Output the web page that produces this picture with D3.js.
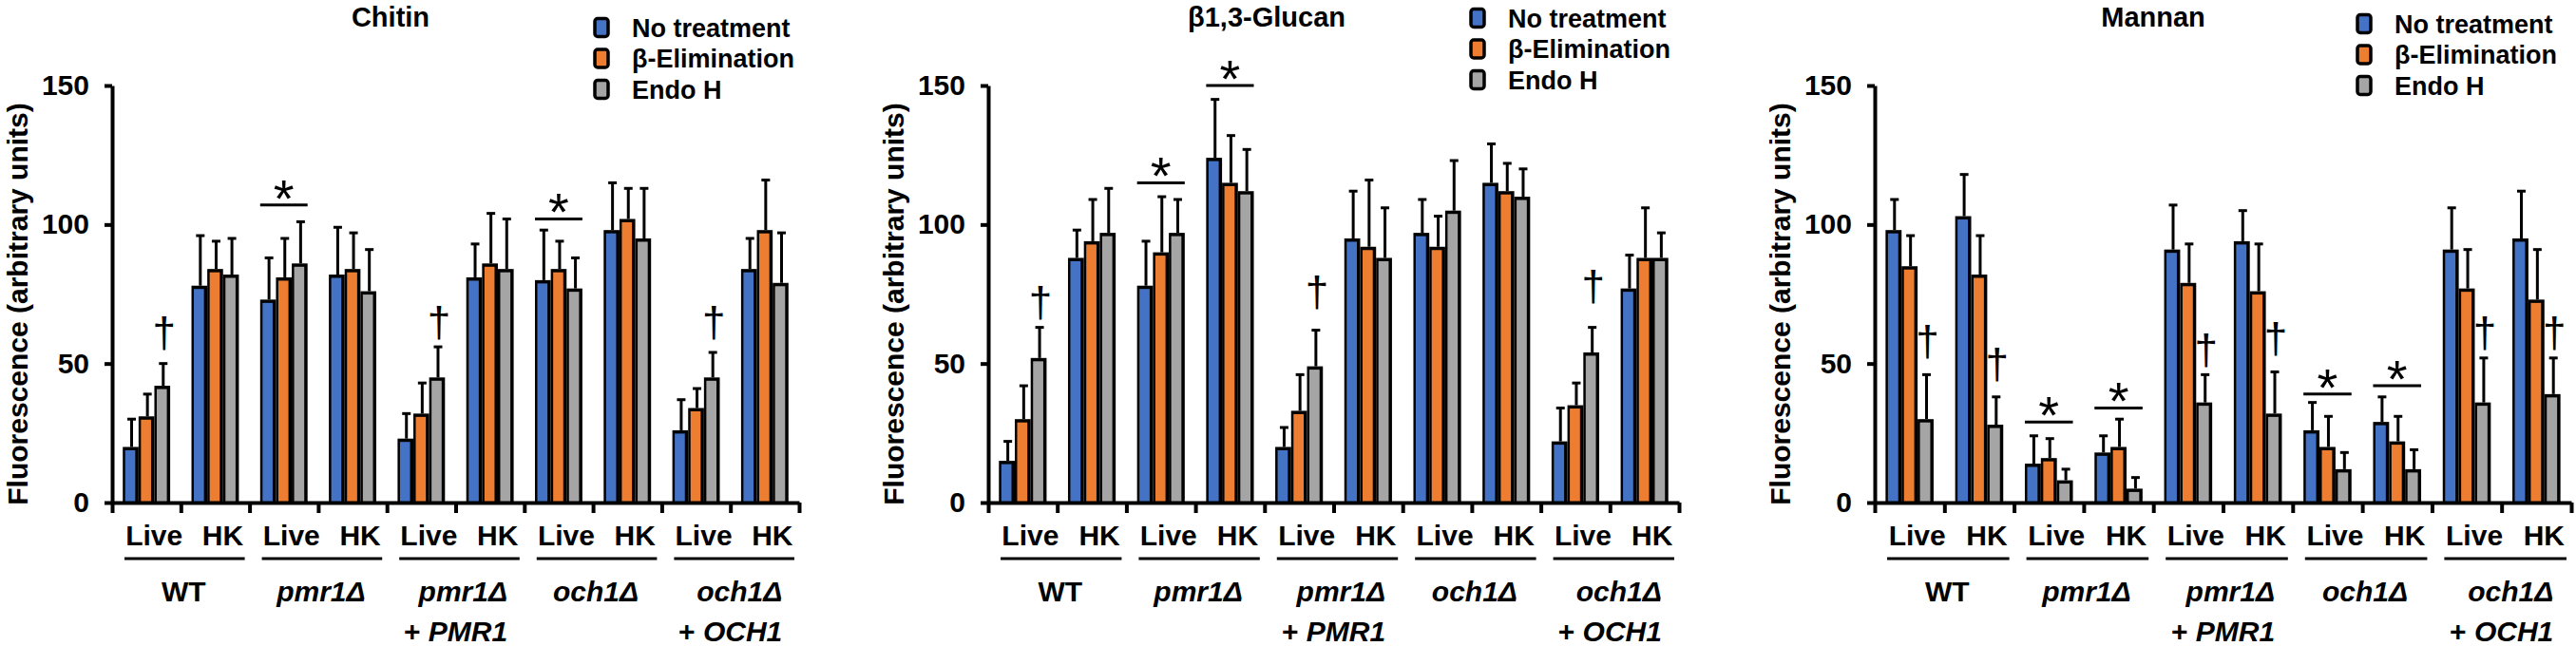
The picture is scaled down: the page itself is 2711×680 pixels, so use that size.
<!DOCTYPE html>
<html>
<head>
<meta charset="utf-8">
<script src="https://cdn.jsdelivr.net/npm/d3@7"></script>
<style>
  body { margin: 0; background: #fff; }
  svg { display: block; font-family: "Liberation Sans", Arial, sans-serif; font-weight: bold; }
</style>
</head>
<body>
<svg id="chart" width="2711" height="680"></svg>
<script>
// --- data ---
var series = ['No treatment', '\u03b2-Elimination', 'Endo H'];
var states = ['Live', 'HK'];
var strainNames = ['WT', 'pmr1\u0394', 'pmr1\u0394', 'och1\u0394', 'och1\u0394'];
var strainItalic = [false, true, true, true, true];
var complements = ['', '', 'PMR1', '', 'OCH1'];
var yTicks = [0, 50, 100, 150];

// one row per strain/state (WT Live, WT HK, pmr1 Live, ...), one column per series
var chitinMeans = [
  [20, 31, 42], [78, 84, 82], [73, 81, 86], [82, 84, 76], [23, 32, 45],
  [81, 86, 84], [80, 84, 77], [98, 102, 95], [26, 34, 45], [84, 98, 79]
];
var chitinErrors = [
  [10, 8, 8], [18, 10, 13], [15, 14, 15], [17, 13, 15], [9, 11, 11],
  [12, 18, 18], [18, 10, 11], [17, 11, 18], [11, 7, 9], [11, 18, 18]
];
var chitinStars = [{ cat: 2, value: 107 }, { cat: 6, value: 102 }];
var chitinDaggers = [{ cat: 0, value: 60 }, { cat: 4, value: 64 }, { cat: 8, value: 64 }];

var glucanMeans = [
  [15, 30, 52], [88, 94, 97], [78, 90, 97], [124, 115, 112], [20, 33, 49],
  [95, 92, 88], [97, 92, 105], [115, 112, 110], [22, 35, 54], [77, 88, 88]
];
var glucanErrors = [
  [7, 12, 11], [10, 15, 16], [16, 20, 12], [21, 17, 15], [7, 13, 13],
  [17, 24, 18], [12, 11, 18], [14, 10, 10], [12, 8, 9], [12, 18, 9]
];
var glucanStars = [{ cat: 2, value: 115 }, { cat: 3, value: 150 }];
var glucanDaggers = [{ cat: 0, value: 71 }, { cat: 4, value: 75 }, { cat: 8, value: 77 }];

var mannanMeans = [
  [98, 85, 30], [103, 82, 28], [14, 16, 8], [18, 20, 5], [91, 79, 36],
  [94, 76, 32], [26, 20, 12], [29, 22, 12], [91, 77, 36], [95, 73, 39]
];
var mannanErrors = [
  [11, 11, 16], [15, 14, 10], [10, 7, 4], [6, 10, 4], [16, 14, 10],
  [11, 17, 15], [10, 11, 6], [9, 9, 7], [15, 14, 16], [17, 18, 13]
];
var mannanStars = [{ cat: 2, value: 29 }, { cat: 3, value: 34 }, { cat: 6, value: 39 }, { cat: 7, value: 42 }];
var mannanDaggers = [{ cat: 0, value: 57 }, { cat: 1, value: 49 }, { cat: 4, value: 54 },
  { cat: 5, value: 58 }, { cat: 8, value: 60 }, { cat: 9, value: 60 }];

// --- layout ---
var panels = [
  { title: 'Chitin', means: chitinMeans, errors: chitinErrors, stars: chitinStars, daggers: chitinDaggers,
    x0: 118, x1: 841, legendY: 29 },
  { title: '\u03b21,3-Glucan', means: glucanMeans, errors: glucanErrors, stars: glucanStars, daggers: glucanDaggers,
    x0: 1040, x1: 1767, legendY: 19 },
  { title: 'Mannan', means: mannanMeans, errors: mannanErrors, stars: mannanStars, daggers: mannanDaggers,
    x0: 1973, x1: 2706, legendY: 25 }
];
var colors = ['#4472C4', '#ED7D31', '#A5A5A5'];
var yTop = 90, yBottom = 529;

var svg = d3.select('#chart');

panels.forEach(function (p) {
  var width = p.x1 - p.x0;
  var g = svg.append('g').attr('transform', 'translate(' + p.x0 + ',0)');

  var cats = d3.range(strainNames.length * states.length);
  var x = d3.scaleBand().domain(cats).range([0, width]);
  var bw = x.bandwidth();
  var groupW = bw * 0.69;
  var groupOff = (bw - groupW) / 2;
  var xs = d3.scaleBand().domain(d3.range(series.length)).range([0, groupW]);
  var sw = xs.bandwidth();
  var y = d3.scaleLinear().domain([0, 150]).range([yBottom, yTop]);
  var xb = d3.scaleLinear().domain([0, cats.length]).range([0, width]);

  // bars
  var bars = [];
  p.means.forEach(function (row, c) {
    row.forEach(function (v, s) {
      bars.push({ c: c, s: s, v: v, e: p.errors[c][s] });
    });
  });
  function bx(d) { return x(d.c) + groupOff + xs(d.s); }

  g.selectAll('rect.outline').data(bars).enter().append('rect')
    .attr('class', 'outline')
    .attr('x', bx)
    .attr('y', function (d) { return y(d.v); })
    .attr('width', sw)
    .attr('height', function (d) { return yBottom - y(d.v); })
    .attr('fill', '#000');

  g.selectAll('rect.fill').data(bars).enter().append('rect')
    .attr('class', 'fill')
    .attr('x', function (d) { return bx(d) + 2.5; })
    .attr('y', function (d) { return y(d.v) + 3.5; })
    .attr('width', sw - 6)
    .attr('height', function (d) { return Math.max(0, yBottom - y(d.v) - 3.5); })
    .attr('fill', function (d) { return colors[d.s]; });

  // error bars
  var err = g.selectAll('g.err').data(bars).enter().append('g')
    .attr('class', 'err')
    .attr('stroke', '#000').attr('stroke-width', 3);
  err.append('line')
    .attr('x1', function (d) { return bx(d) + sw / 2 + 1; })
    .attr('x2', function (d) { return bx(d) + sw / 2 + 1; })
    .attr('y1', function (d) { return y(d.v); })
    .attr('y2', function (d) { return y(d.v + d.e); });
  err.append('line')
    .attr('x1', function (d) { return bx(d) + sw / 2 - 3.5; })
    .attr('x2', function (d) { return bx(d) + sw / 2 + 5.5; })
    .attr('y1', function (d) { return y(d.v + d.e); })
    .attr('y2', function (d) { return y(d.v + d.e); });

  // axes
  var xAxis = g.append('g')
    .attr('transform', 'translate(0,' + yBottom + ')')
    .call(d3.axisBottom(xb).tickValues(d3.range(cats.length + 1)).tickSize(11).tickSizeOuter(0).tickFormat(''));
  var yAxis = g.append('g')
    .call(d3.axisLeft(y).tickValues(yTicks).tickSize(8).tickSizeOuter(0).tickPadding(16));
  [xAxis, yAxis].forEach(function (a) {
    a.select('.domain').attr('stroke', '#000').attr('stroke-width', 4);
    a.selectAll('.tick line').attr('stroke', '#000').attr('stroke-width', 4);
  });
  yAxis.selectAll('.tick text')
    .attr('font-size', 30).attr('font-weight', 'bold').attr('fill', '#000')
    .attr('font-family', '"Liberation Sans", Arial, sans-serif');

  // y title
  g.append('text')
    .attr('transform', 'translate(-100,320) rotate(-90)')
    .attr('text-anchor', 'middle')
    .attr('dominant-baseline', 'central')
    .attr('font-size', 30)
    .text('Fluorescence (arbitrary units)');

  // panel title
  g.append('text')
    .attr('x', 293).attr('y', 28)
    .attr('text-anchor', 'middle')
    .attr('font-size', 29)
    .text(p.title);

  // legend
  var leg = g.selectAll('g.leg').data(series).enter().append('g')
    .attr('class', 'leg')
    .attr('transform', function (d, i) { return 'translate(515,' + (p.legendY + i * 32.5) + ')'; });
  leg.append('rect')
    .attr('x', -7).attr('y', -9.5).attr('width', 14).attr('height', 19).attr('rx', 3)
    .attr('fill', function (d, i) { return colors[i]; })
    .attr('stroke', '#000').attr('stroke-width', 3.5);
  leg.append('text')
    .attr('x', 32).attr('y', 9.5)
    .attr('font-size', 27)
    .text(function (d) { return d; });

  // Live / HK labels
  g.selectAll('text.state').data(cats).enter().append('text')
    .attr('class', 'state')
    .attr('x', function (c) { return x(c) + bw / 2 + 8; })
    .attr('y', 574)
    .attr('text-anchor', 'middle')
    .attr('font-size', 30)
    .text(function (c) { return states[c % states.length]; });

  // strain underlines and names
  strainNames.forEach(function (name, k) {
    var left = x(k * 2), right = x(k * 2 + 1) + bw;
    var mid = (left + right) / 2;
    g.append('line')
      .attr('x1', left + 13).attr('x2', right - 5)
      .attr('y1', 588).attr('y2', 588)
      .attr('stroke', '#000').attr('stroke-width', 3);

    var line1 = g.append('text')
      .attr('y', 633)
      .attr('font-size', 30)
      .attr('font-style', strainItalic[k] ? 'italic' : 'normal')
      .text(name);

    if (complements[k]) {
      var line2 = g.append('text')
        .attr('x', mid).attr('y', 675)
        .attr('text-anchor', 'middle')
        .attr('font-size', 30);
      line2.append('tspan').text('+ ');
      line2.append('tspan').attr('font-style', 'italic').text(complements[k]);
      var w2 = line2.node().getComputedTextLength();
      line1.attr('x', mid + w2 / 2).attr('text-anchor', 'end');
    } else {
      line1.attr('x', mid + 3).attr('text-anchor', 'middle');
    }
  });

  // significance marks
  p.stars.forEach(function (st) {
    var left = x(st.cat) + groupOff;
    g.append('line')
      .attr('x1', left).attr('x2', left + groupW)
      .attr('y1', y(st.value)).attr('y2', y(st.value))
      .attr('stroke', '#000').attr('stroke-width', 3);
    g.append('text')
      .attr('x', left + groupW / 2).attr('y', y(st.value) + 12)
      .attr('text-anchor', 'middle')
      .attr('font-size', 56).attr('font-weight', 'normal')
      .text('*');
  });
  p.daggers.forEach(function (dg) {
    var gx = x(dg.cat) + groupOff + xs(2) + sw / 2 + 2;
    g.append('text')
      .attr('x', gx).attr('y', y(dg.value) + 12)
      .attr('text-anchor', 'middle')
      .attr('font-size', 44).attr('font-weight', 'normal')
      .text('\u2020');
  });
});
</script>
</body>
</html>
